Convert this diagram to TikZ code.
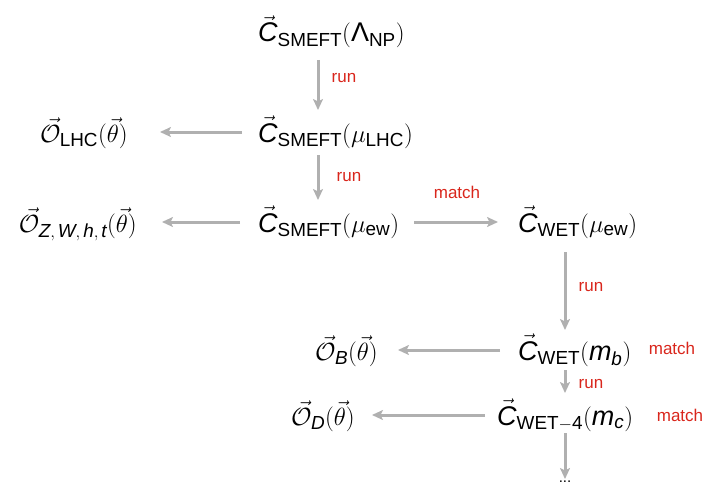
\documentclass[tikz,border=0pt]{standalone}
\usepackage{amsmath}
\usepackage{fontspec}
\setmainfont{Liberation Sans}
\usetikzlibrary{arrows.meta}
\definecolor{arrgray}{HTML}{B0B0B0}
\definecolor{tagred}{HTML}{D9261C}
\newcommand\vC{\vec{\text{\itshape C}}}
\newcommand\vO{\vec{\mathcal{O}}}
\newcommand\itx[1]{\text{\itshape #1}}
\begin{document}
\begin{tikzpicture}[x=1pt,y=-1pt,
  lbl/.style={font=\fontsize{27}{31}\selectfont, inner sep=0pt},
  arr/.style={draw=arrgray, line width=3pt, -{Stealth[length=11pt,width=10pt,inset=2.5pt]}},
  tag/.style={text=tagred, font=\fontsize{17}{19}\selectfont, inner sep=0pt}]
\useasboundingbox (0,0) rectangle (707,487);
\coordinate (v1) at (318,0);
\coordinate (v2) at (565,0);
\coordinate (h2) at (0,132);
\coordinate (h3) at (0,222);
\coordinate (h4) at (0,350);
\coordinate (h5) at (0,415);

\node[lbl, anchor=base west] (top)  at (258,42)  {$\vC_{\text{SMEFT}}(\text{Λ}_{\text{NP}})$};
\node[lbl, anchor=base west] (lhc)  at (258,142) {$\vC_{\text{SMEFT}}(\mu_{\text{LHC}})$};
\node[lbl, anchor=base east] (olhc) at (128,142) {$\vO_{\text{LHC}}(\vec{\theta})$};
\node[lbl, anchor=base west] (ew)   at (258,232) {$\vC_{\text{SMEFT}}(\mu_{\text{ew}})$};
\node[lbl, anchor=base east] (oz)   at (137,232) {$\vO_{\itx{Z},\,\itx{W},\,\itx{h},\,\itx{t}}(\vec{\theta})$};
\node[lbl, anchor=base west] (wew)  at (518,232) {$\vC_{\text{WET}}(\mu_{\text{ew}})$};
\node[lbl, anchor=base west] (mb)   at (518,360) {$\vC_{\text{WET}}(\itx{m}_{\itx{b}})$};
\node[lbl, anchor=base east] (ob)   at (378,360) {$\vO_{\itx{B}}(\vec{\theta})$};
\node[lbl, anchor=base west] (mc)   at (497,425) {$\vC_{\text{WET}-\text{4}}(\itx{m}_{\itx{c}})$};
\node[lbl, anchor=base east] (od)   at (355,425) {$\vO_{\itx{D}}(\vec{\theta})$};
\node[inner sep=0pt, font=\fontsize{15}{17}\selectfont] (dots) at (565,482) {...};

\draw[arr, shorten <=18pt, shorten >=32pt] (top.base -| v1) -- (lhc.base -| v1);
\draw[arr, shorten <=13pt, shorten >=32pt] (lhc.base -| v1) -- (ew.base -| v1);
\draw[arr, shorten <=16pt, shorten >=32pt] (lhc.west |- h2) -- (olhc.east |- h2);
\draw[arr, shorten <=18pt, shorten >=25pt] (ew.west |- h3) -- (oz.east |- h3);
\draw[arr, shorten <=15pt, shorten >=20pt] (ew.east |- h3) -- (wew.west |- h3);
\draw[arr, shorten <=20pt, shorten >=30pt] (wew.base -| v2) -- (mb.base -| v2);
\draw[arr, shorten <=18pt, shorten >=20pt] (mb.west |- h4) -- (ob.east |- h4);
\draw[arr, shorten <=10pt, shorten >=32pt] (mb.base -| v2) -- (mc.base -| v2);
\draw[arr, shorten <=12pt, shorten >=17pt] (mc.west |- h5) -- (od.east |- h5);
\draw[arr, shorten <=8pt, shorten >=2pt] (mc.base -| v2) -- (dots.north -| v2);

\node[tag] (r1) at (344,78)  {run};
\node[tag] (r2) at (349,177) {run};
\node[tag] (m1) at (457,192) {match};
\node[tag] (r3) at (591,287) {run};
\node[tag] (m2) at (672,348) {match};
\node[tag] (r4) at (591,384) {run};
\node[tag] (m3) at (680,415) {match};
\end{tikzpicture}
\end{document}
